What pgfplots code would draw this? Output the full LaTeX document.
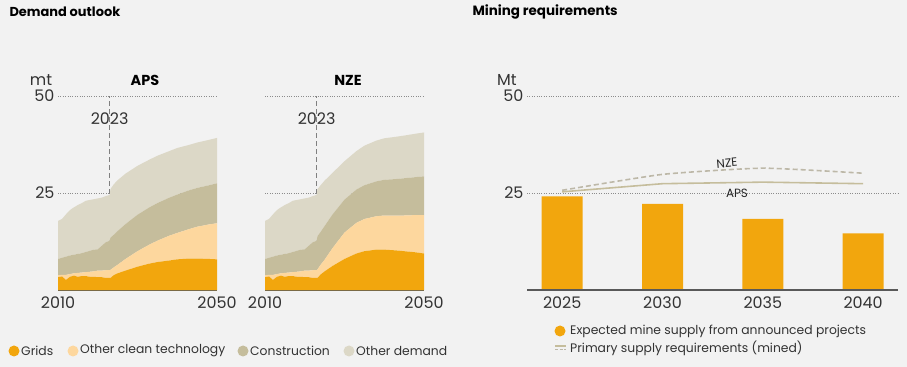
\documentclass[border=0pt]{standalone}
\usepackage{pgfplots}
\pgfplotsset{compat=1.18}
\usepackage{pgfplotstable}
\usepackage{fontspec}
\setmainfont{Poppins}
\definecolor{bg}{HTML}{F2F2F2}
\definecolor{cgrid}{HTML}{F2A60D}
\definecolor{cclean}{HTML}{FDD79E}
\definecolor{cconstr}{HTML}{C5BD9C}
\definecolor{cother}{HTML}{DCD8C7}
\definecolor{cbase}{HTML}{7A6A45}
\definecolor{ctext}{HTML}{333333}
\definecolor{cline}{HTML}{C5BD9C}
\definecolor{cdash}{HTML}{BDB8A8}

\pgfplotstableread{
year grids oclean constr other
2010 3.3 0.5 4.2 9.8
2011 3.5 0.4 4.4 10.0
2012 2.6 1.3 4.7 10.9
2013 3.4 0.7 4.8 11.7
2014 3.7 0.6 4.8 12.2
2015 3.4 1.0 4.9 12.6
2016 3.6 0.9 5.0 12.9
2017 3.6 1.0 5.2 13.2
2018 3.4 1.3 5.4 13.1
2019 3.4 1.4 5.6 13.0
2020 3.3 1.7 5.5 13.1
2021 3.3 1.7 6.4 12.4
2022 3.1 2.0 7.2 11.9
2023 3.1 2.0 7.6 11.8
2023.2 3.1 2.1 8.3 12.5
2024 3.8 2.0 8.4 13.0
2025 4.3 2.2 8.7 13.1
2027 5.0 3.0 9.0 13.0
2030 6.0 4.0 9.4 12.6
2033 6.8 4.9 9.6 12.3
2035 7.2 5.5 9.7 12.2
2038 7.6 6.4 9.8 12.0
2040 7.9 6.8 9.9 12.0
2043 8.1 7.6 10.0 11.7
2045 8.1 8.2 10.0 11.7
2048 8.0 8.9 10.1 11.7
2050 7.9 9.3 10.3 11.7
}\apsdata

\pgfplotstableread{
year grids oclean constr other
2010 3.3 0.5 4.2 9.8
2011 3.5 0.4 4.4 10.0
2012 2.6 1.3 4.7 10.9
2013 3.4 0.7 4.8 11.7
2014 3.7 0.6 4.8 12.2
2015 3.4 1.0 4.9 12.6
2016 3.6 0.9 5.0 12.9
2017 3.6 1.0 5.2 13.2
2018 3.4 1.3 5.4 13.1
2019 3.4 1.4 5.6 13.0
2020 3.3 1.7 5.5 13.1
2021 3.3 1.7 6.4 12.4
2022 3.1 2.0 7.2 11.9
2023 3.1 2.0 7.6 11.8
2023.2 3.1 2.2 8.6 12.1
2024 4.0 2.5 8.5 12.0
2025 4.8 3.0 8.7 11.7
2027 6.2 4.6 8.7 10.7
2030 8.0 6.8 8.5 9.9
2033 9.4 7.9 8.6 9.9
2035 10.0 8.3 8.7 10.2
2038 10.4 8.6 9.0 10.5
2040 10.4 8.8 9.2 10.7
2043 10.2 9.0 9.4 10.9
2045 10.0 9.2 9.6 11.0
2048 9.7 9.6 9.8 11.2
2050 9.4 9.9 10.0 11.3
}\nzedata

\pgfplotsset{
  base/.style={
    scale only axis, anchor=south west, height=194bp,
    ymin=0, ymax=50, ytick={25,50},
    axis line style={draw=none}, major tick length=0pt,
    ymajorgrids, grid style={dotted, color=black!45, line width=0.6pt},
    ticklabel style={font=\fontsize{16}{19}\selectfont, text=ctext},
    xticklabel style={yshift=-3bp},
    clip=false,
  },
  demand/.style={base, width=159bp, xmin=2010, xmax=2050,
    xtick={2010,2050}, xticklabels={2010,2050}, stack plots=y},
}

\begin{document}
\begin{tikzpicture}
\fill[bg] (0bp,0bp) rectangle (907bp,367bp);
\useasboundingbox (0bp,0bp) rectangle (907bp,367bp);

% titles
\node[anchor=west, font=\fontsize{13}{16}\selectfont\bfseries] at (6bp,355bp) {Demand outlook};
\node[anchor=west, font=\fontsize{13.5}{16}\selectfont\bfseries] at (469bp,355bp) {Mining requirements};

% APS
\begin{axis}[demand, at={(58bp,77bp)}, yticklabels={25,50}]
\addplot[fill=cgrid, draw=none] table[x=year,y=grids]{\apsdata} \closedcycle;
\addplot[fill=cclean, draw=none] table[x=year,y=oclean]{\apsdata} \closedcycle;
\addplot[fill=cconstr, draw=none] table[x=year,y=constr]{\apsdata} \closedcycle;
\addplot[fill=cother, draw=none] table[x=year,y=other]{\apsdata} \closedcycle;
\draw[color=black!50, dash pattern=on 5bp off 3bp, line width=1pt] (axis cs:2023,0) -- (axis cs:2023,50);
\draw[cbase, line width=1.3pt] (axis cs:2010,0) -- (axis cs:2050,0);
\node[font=\fontsize{16}{19}\selectfont, text=ctext] at (axis cs:2023,44.2) {2023};
\end{axis}
\node[font=\fontsize{16}{19}\selectfont, text=ctext] at (41bp,287bp) {mt};
\node[font=\fontsize{14.5}{17}\selectfont\bfseries] at (145bp,287bp) {APS};

% NZE
\begin{axis}[demand, at={(265bp,77bp)}, yticklabels={}]
\addplot[fill=cgrid, draw=none] table[x=year,y=grids]{\nzedata} \closedcycle;
\addplot[fill=cclean, draw=none] table[x=year,y=oclean]{\nzedata} \closedcycle;
\addplot[fill=cconstr, draw=none] table[x=year,y=constr]{\nzedata} \closedcycle;
\addplot[fill=cother, draw=none] table[x=year,y=other]{\nzedata} \closedcycle;
\draw[color=black!50, dash pattern=on 5bp off 3bp, line width=1pt] (axis cs:2023,0) -- (axis cs:2023,50);
\draw[cbase, line width=1.3pt] (axis cs:2010,0) -- (axis cs:2050,0);
\node[font=\fontsize{16}{19}\selectfont, text=ctext] at (axis cs:2023,44.2) {2023};
\end{axis}
\node[font=\fontsize{14.5}{17}\selectfont\bfseries] at (348bp,287bp) {NZE};

% Mining requirements
\begin{axis}[base, at={(527bp,77bp)}, width=371bp, xmin=-0.351, xmax=3.348,
  xtick={0,1,2,3}, xticklabels={2025,2030,2035,2040}, yticklabels={25,50}]
\addplot[ybar, bar width=41bp, fill=cgrid, draw=none] coordinates {(0,24.1) (1,22.2) (2,18.3) (3,14.6)};
\addplot[cline, line width=1.6pt] coordinates {(0,25.3) (1,27.4) (2,27.8) (3,27.4)};
\addplot[cdash, line width=1.6pt, dash pattern=on 5bp off 3bp, smooth, tension=0.3] coordinates {(0,25.7) (1,29.8) (2,31.4) (3,30.1)};
\draw[black!65, line width=1.3pt] (axis cs:-0.351,0) -- (axis cs:3.348,0);
\end{axis}
\node[font=\fontsize{16}{19}\selectfont, text=ctext] at (507bp,287bp) {Mt};
\node[font=\fontsize{12}{14}\selectfont, text=black!85, rotate=5] at (727bp,204bp) {NZE};
\node[font=\fontsize{12}{14}\selectfont, text=black!85] at (737bp,174bp) {APS};

% legends
\begin{scope}[font=\fontsize{12.4}{14}\selectfont, text=ctext]
\fill[cgrid] (14bp,16bp) circle (5.5bp);
\node[anchor=west, inner sep=0] at (21bp,16bp) {Grids};
\fill[cclean] (73bp,16bp) circle (5.5bp);
\node[anchor=west, inner sep=0] at (80bp,16bp) {Other clean technology};
\fill[cconstr] (243bp,16bp) circle (5.5bp);
\node[anchor=west, inner sep=0] at (250bp,16bp) {Construction};
\fill[cother] (349bp,16bp) circle (5.5bp);
\node[anchor=west, inner sep=0] at (356bp,16bp) {Other demand};

\fill[cgrid] (560bp,36bp) circle (5.5bp);
\node[anchor=west, inner sep=0] at (570bp,36bp) {Expected mine supply from announced projects};
\draw[cline, line width=1.2pt] (555bp,21bp) -- (566bp,21bp);
\draw[cdash, line width=1.2pt, dash pattern=on 3bp off 1.5bp] (555bp,17.5bp) -- (566bp,17.5bp);
\node[anchor=west, inner sep=0] at (570bp,19bp) {Primary supply requirements (mined)};
\end{scope}
\end{tikzpicture}
\end{document}
